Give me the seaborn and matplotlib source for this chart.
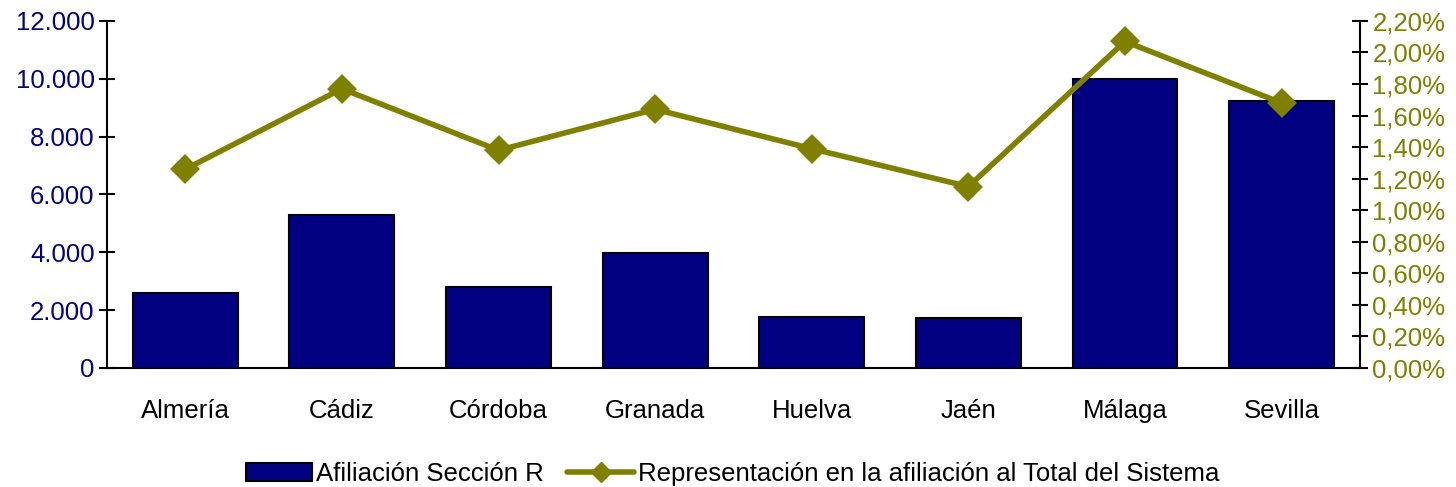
import matplotlib
matplotlib.use("Agg")
import matplotlib.pyplot as plt
import seaborn as sns
import pandas as pd
from matplotlib.ticker import FuncFormatter, FixedLocator, MultipleLocator
from matplotlib.patches import Patch
from matplotlib.lines import Line2D

provincias = ["Almería", "Cádiz", "Córdoba", "Granada", "Huelva", "Jaén", "Málaga", "Sevilla"]
afiliacion = [2580, 5280, 2790, 3960, 1750, 1740, 9990, 9230]
representacion = [1.26, 1.77, 1.38, 1.64, 1.39, 1.15, 2.07, 1.68]

navy = "#000080"
olive = "#808000"

sns.set_style("white")
plt.rcParams["font.family"] = ["Liberation Sans", "DejaVu Sans"]
plt.rcParams["text.color"] = "black"

df = pd.DataFrame({"provincia": provincias, "afiliacion": afiliacion, "repr": representacion})

fig = plt.figure(figsize=(14.56, 4.87), dpi=100)
ax = fig.add_axes([0.0735, 0.2444, 0.8605, 0.7126])

sns.barplot(data=df, x="provincia", y="afiliacion", color=navy, width=0.67,
            edgecolor="black", linewidth=1.5, saturation=1, ax=ax)
for p in ax.patches:
    p.set_facecolor(navy)

ax2 = ax.twinx()
sns.pointplot(data=df, x="provincia", y="repr", color=olive, markers="D",
              linestyles="-", ax=ax2, markersize=12.5, linewidth=4)

ax.set_xlim(-0.5, 7.5)
ax.set_ylim(0, 12000)
ax2.set_ylim(0, 2.2)
ax.yaxis.set_major_locator(MultipleLocator(2000))
ax2.yaxis.set_major_locator(MultipleLocator(0.2))
ax.yaxis.set_major_formatter(FuncFormatter(lambda v, p: f"{int(v):,}".replace(",", ".")))
ax2.yaxis.set_major_formatter(FuncFormatter(lambda v, p: f"{v:.2f}%".replace(".", ",")))

ax.set_xlabel("")
ax.set_ylabel("")
ax2.set_ylabel("")

for a in (ax, ax2):
    a.spines["top"].set_visible(False)
    for s in a.spines.values():
        s.set_color("black")
        s.set_linewidth(1.5)
ax.spines["right"].set_visible(False)
ax2.spines["left"].set_visible(False)
ax2.spines["bottom"].set_visible(False)

ax.tick_params(axis="y", direction="inout", length=12, width=1.5, colors="black",
               labelcolor=navy, labelsize=18.5, pad=3)
ax2.tick_params(axis="y", direction="inout", length=12, width=1.5, colors="black",
                labelcolor=olive, labelsize=18.5, pad=3)
ax.xaxis.set_minor_locator(FixedLocator([i - 0.5 for i in range(9)]))
ax.tick_params(axis="x", which="major", length=0, labelsize=18.5, labelcolor="black", pad=22)
ax.tick_params(axis="x", which="minor", direction="inout", length=12, width=1.5, color="black")
ax2.tick_params(axis="x", which="both", length=0)

handles = [Patch(facecolor=navy, edgecolor="black", linewidth=1.5),
           Line2D([], [], color=olive, linewidth=4, marker="D", markersize=10)]
labels = ["Afiliación Sección R", "Representación en la afiliación al Total del Sistema"]
fig.legend(handles, labels, loc="lower center", bbox_to_anchor=(0.503, -0.045), ncol=2,
           frameon=False, fontsize=18.5, handlelength=2.6, handletextpad=0.15,
           columnspacing=0.9, labelcolor="black")

fig.savefig("out.png", dpi=100)
